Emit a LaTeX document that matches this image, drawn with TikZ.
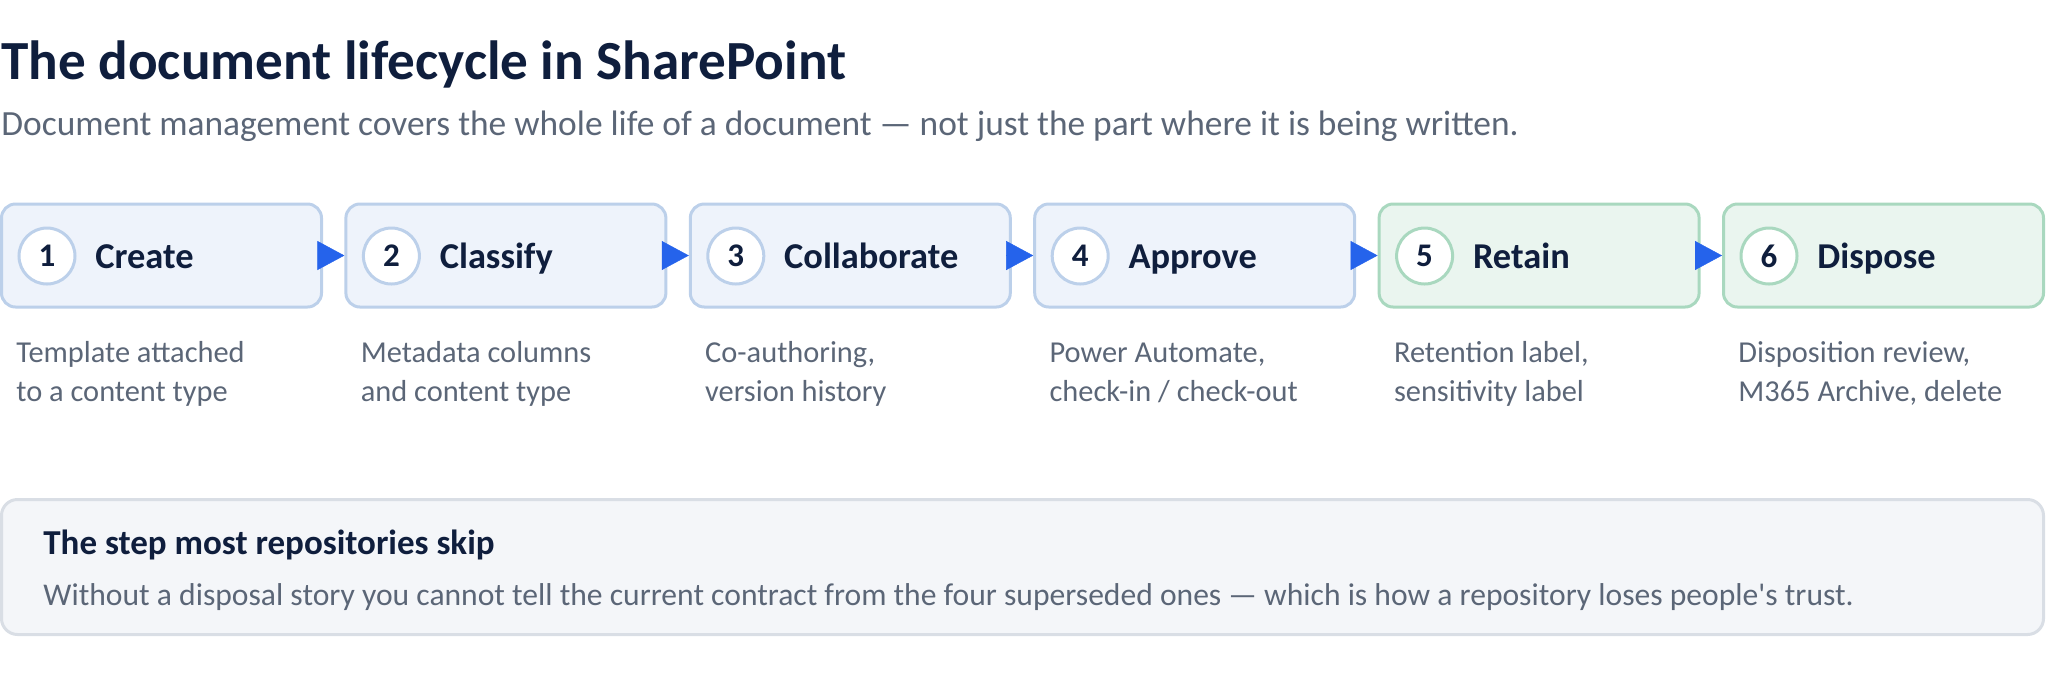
\documentclass[tikz,border=0pt]{standalone}
\usepackage{fontspec}
\setmainfont{Carlito}
\usetikzlibrary{arrows.meta}
\definecolor{ink}{HTML}{0F1E3D}
\definecolor{muted}{HTML}{5B6677}
\definecolor{stepline}{HTML}{BCD0EA}
\definecolor{stepfill}{HTML}{EEF3FB}
\definecolor{keepline}{HTML}{A9D8BF}
\definecolor{keepfill}{HTML}{EAF5EF}
\definecolor{arrowblue}{HTML}{2563EB}
\definecolor{noteline}{HTML}{D9DEE5}
\definecolor{notefill}{HTML}{F4F6F9}

\begin{document}
\begin{tikzpicture}[x=0.5pt, y=-0.5pt,
    stepbox/.style={draw=stepline, fill=stepfill, line width=1.5pt, rounded corners=7pt,
      minimum width=160pt, minimum height=51.5pt, inner sep=0pt},
    keepbox/.style={stepbox, draw=keepline, fill=keepfill},
    num/.style={circle, draw=stepline, fill=white, line width=1.5pt, minimum size=28pt,
      inner sep=0pt, text=ink, font=\fontsize{16.5}{16.5}\selectfont\bfseries},
    keepnum/.style={num, draw=keepline},
    steptext/.style={anchor=base west, inner sep=0pt, text=ink,
      font=\fontsize{18.2}{18.2}\selectfont\bfseries},
    desc/.style={anchor=base west, inner sep=0pt, align=left, text=muted,
      font=\fontsize{15.2}{19.5}\selectfont},
    flow/.style={-{Triangle[length=13.5pt,width=14.5pt]}, draw=arrowblue, line width=0.2pt}]
    \useasboundingbox (0,0) rectangle (2047,677);

    % heading
    \node (title) [anchor=base west, inner sep=0pt, text=ink, font=\fontsize{27.6}{27.6}\selectfont\bfseries]
      at (1,79) {The document lifecycle in SharePoint};
    \node (sub) [anchor=base west, inner sep=0pt, text=muted, font=\fontsize{17.7}{17.7}\selectfont]
      at (1,135) {Document management covers the whole life of a document — not just the part where it is being written.};

    % steps
    \node [stepbox] (s1) at (161.5,255.5) {};
    \node [stepbox] (s2) at (505.9,255.5) {};
    \node [stepbox] (s3) at (850.3,255.5) {};
    \node [stepbox] (s4) at (1194.7,255.5) {};
    \node [keepbox] (s5) at (1539.1,255.5) {};
    \node [keepbox] (s6) at (1883.5,255.5) {};

    \node [num] (n1) at (47,256) {1};
    \node [num] (n2) at (391.4,256) {2};
    \node [num] (n3) at (735.8,256) {3};
    \node [num] (n4) at (1080.2,256) {4};
    \node [keepnum] (n5) at (1424.6,256) {5};
    \node [keepnum] (n6) at (1769,256) {6};

    \node [steptext] (t1) at (95,268) {Create};
    \node [steptext] (t2) at (439.4,268) {Classify};
    \node [steptext] (t3) at (783.8,268) {Collaborate};
    \node [steptext] (t4) at (1128.2,268) {Approve};
    \node [steptext] (t5) at (1472.6,268) {Retain};
    \node [steptext] (t6) at (1817,268) {Dispose};

    \draw [flow] (s1.east) -- (s2.west);
    \draw [flow] (s2.east) -- (s3.west);
    \draw [flow] (s3.east) -- (s4.west);
    \draw [flow] (s4.east) -- (s5.west);
    \draw [flow] (s5.east) -- (s6.west);

    % what happens at each step (base = last line)
    \node [desc] (d1) at (16,401) {Template attached\\to a content type};
    \node [desc] (d2) at (360.4,401) {Metadata columns\\and content type};
    \node [desc] (d3) at (704.8,401) {Co-authoring,\\version history};
    \node [desc] (d4) at (1049.2,401) {Power Automate,\\check-in / check-out};
    \node [desc] (d5) at (1393.6,401) {Retention label,\\sensitivity label};
    \node [desc] (d6) at (1738,401) {Disposition review,\\M365 Archive, delete};

    % the note
    \node (note) [draw=noteline, fill=notefill, line width=1.5pt, rounded corners=8pt,
      minimum width=1021pt, minimum height=67.5pt, inner sep=0pt] at (1022.5,567) {};
    \node (notehead) [anchor=base west, inner sep=0pt, text=ink, font=\fontsize{17.5}{17.5}\selectfont\bfseries]
      at (43,554) {The step most repositories skip};
    \node (notebody) [anchor=base west, inner sep=0pt, text=muted, font=\fontsize{15.8}{15.8}\selectfont]
      at (43,605) {Without a disposal story you cannot tell the current contract from the four superseded ones — which is how a repository loses people\textquotesingle s trust.};
  \end{tikzpicture}
\end{document}
